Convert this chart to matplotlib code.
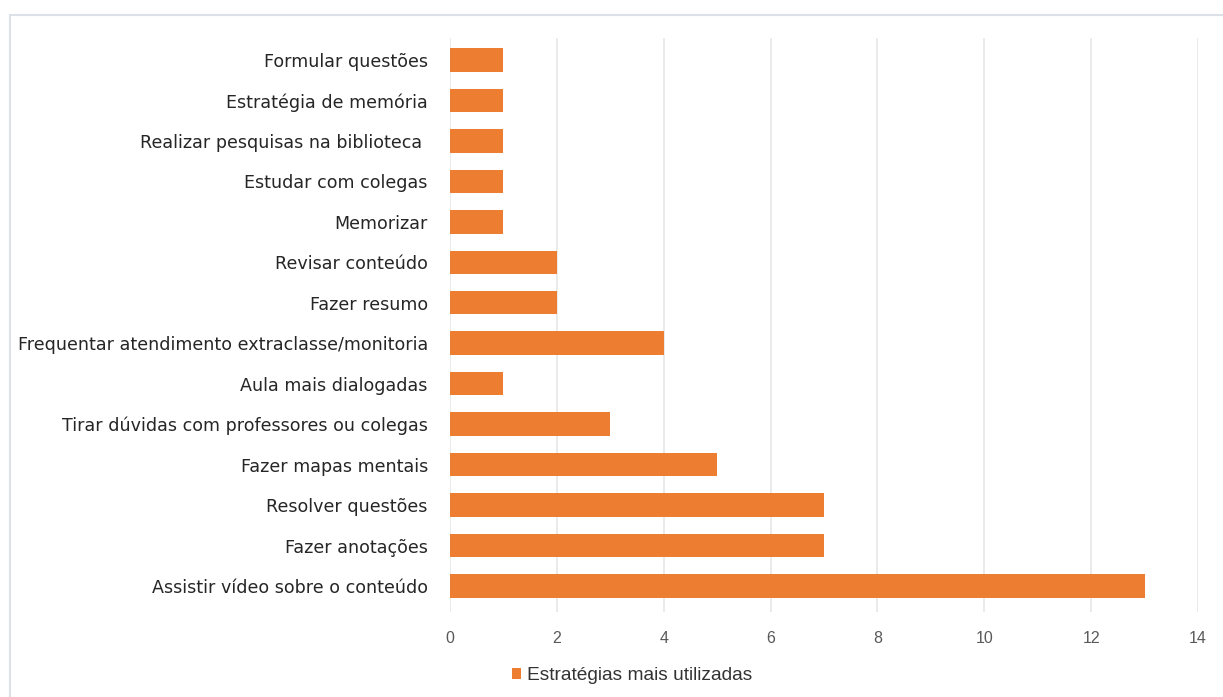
import matplotlib.pyplot as plt
from matplotlib.patches import Rectangle
import numpy as np

# estratégias (de baixo para cima) e contagens
estrategias = [
    "Assistir vídeo sobre o conteúdo",
    "Fazer anotações",
    "Resolver questões",
    "Fazer mapas mentais",
    "Tirar dúvidas com professores ou colegas",
    "Aula mais dialogadas",
    "Frequentar atendimento extraclasse/monitoria",
    "Fazer resumo",
    "Revisar conteúdo",
    "Memorizar",
    "Estudar com colegas",
    "Realizar pesquisas na biblioteca ",
    "Estratégia de memória",
    "Formular questões",
]
contagens = [13, 7, 7, 5, 3, 1, 4, 2, 2, 1, 1, 1, 1, 1]
xticks = [0, 2, 4, 6, 8, 10, 12, 14]
serie = "Estratégias mais utilizadas"

plt.rcParams['font.family'] = ['Liberation Sans', 'DejaVu Sans']

fig = plt.figure(figsize=(12.23, 6.97), dpi=100)
ax = fig.add_axes([450 / 1223, 1 - 612 / 697, 748 / 1223, 574 / 697])

y = np.arange(len(estrategias))
ax.barh(y, contagens, height=0.58, color='#ED7D31', label=serie, zorder=3)

ax.set_xlim(0, 14)
ax.set_ylim(-0.64, len(estrategias) - 1 + 0.54)
ax.set_xticks(xticks)
ax.set_xticklabels([str(t) for t in xticks])
ax.set_yticks(y)
ax.set_yticklabels(estrategias, family='DejaVu Sans')

ax.grid(axis='x', color='#E6E6E6', linewidth=1.2, zorder=0)
for s in ax.spines.values():
    s.set_visible(False)
ax.tick_params(axis='both', length=0)
ax.tick_params(axis='y', labelsize=12.6, pad=16, labelcolor='#262626')
ax.tick_params(axis='x', labelsize=11.5, pad=14, labelcolor='#595959')

leg = fig.legend(loc='center', bbox_to_anchor=(632 / 1223, 1 - 676 / 697),
                 frameon=False, fontsize=13.8, handlelength=0.5,
                 handleheight=0.5, handletextpad=0.3)
for t in leg.get_texts():
    t.set_color('#333333')

# moldura do gráfico
fig.patches.append(Rectangle((10 / 1223, -0.05), 1.1, 1 - 15 / 697 + 0.05,
                             transform=fig.transFigure, fill=False,
                             edgecolor='#DCE1E8', linewidth=1.5))

fig.savefig('out.png', dpi=100)
